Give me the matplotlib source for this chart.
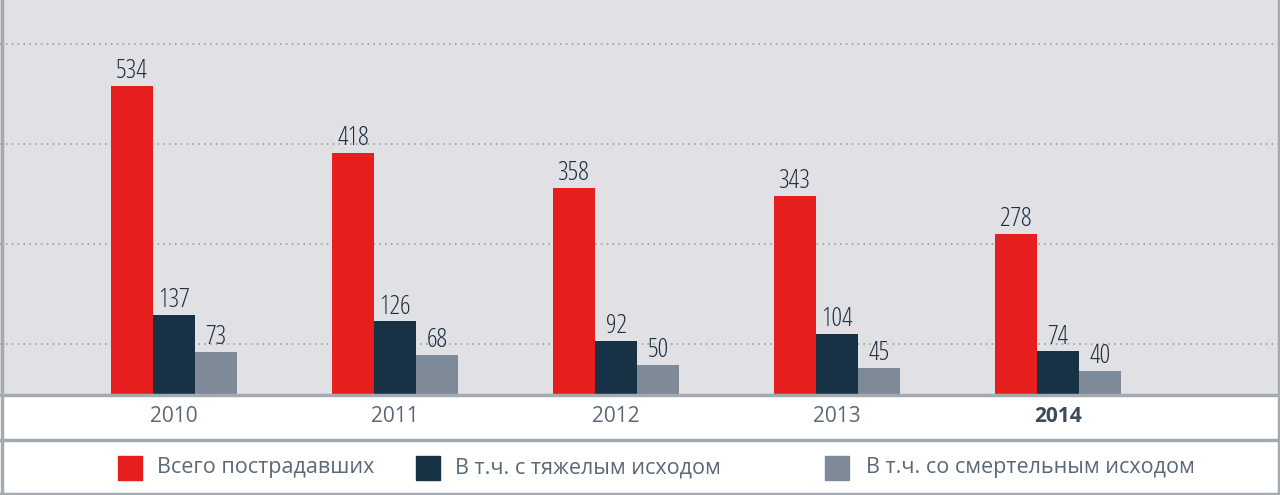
import matplotlib
matplotlib.use("Agg")
import matplotlib.pyplot as plt
from matplotlib.patches import Rectangle
import numpy as np

years = ["2010", "2011", "2012", "2013", "2014"]
total = [534, 418, 358, 343, 278]
severe = [137, 126, 92, 104, 74]
fatal = [73, 68, 50, 45, 40]
labels = ["Всего пострадавших", "В т.ч. с тяжелым исходом", "В т.ч. со смертельным исходом"]
colors = ["#e61e1e", "#173244", "#7f8a98"]

W, H = 1280, 495
fig = plt.figure(figsize=(12.8, 4.95), dpi=100)
fig.patch.set_facecolor("white")
plt.rcParams['font.family'] = ['Open Sans', 'DejaVu Sans']

top_px, base_px = 0, 394
ax = fig.add_axes([0, 1 - base_px / H, 1, (base_px - top_px) / H])
ax.set_facecolor("#e1e1e5")
scale = 308 / 534  # px per unit
ax.set_ylim(0, (base_px - top_px) / scale)
ax.set_xlim(-174 / 221, (W - 174) / 221)
for gp in [44, 144, 244, 344]:
    ax.axhline((base_px - gp) / scale, color="#9a9ea6", lw=1.2, ls=(0, (1, 2.5)), zorder=0)
bw = 42 / 221
x = np.arange(len(years))
for off, vals, c in [(-1, total, colors[0]), (0, severe, colors[1]), (1, fatal, colors[2])]:
    bars = ax.bar(x + off * bw, vals, bw, color=c, zorder=2)
    for b, v in zip(bars, vals):
        ax.text(b.get_x() + b.get_width() / 2, v + 3, str(v), ha="center", va="bottom",
                fontsize=19, color="#1e3040", zorder=3, fontstretch="condensed")
for s in ax.spines.values():
    s.set_visible(False)
ax.set_xticks([]); ax.set_yticks([])

border = "#a3aab2"
for i, y in enumerate(years):
    fig.text((174 + 221 * i) / W, 1 - 417 / H, y, ha="center", va="center", fontsize=15,
             color="#5a6878" if i < 4 else "#3c4a5a", fontweight="normal" if i < 4 else "bold")

fig.add_artist(plt.Line2D([0, 1], [1 - 395 / H] * 2, color=border, lw=2.5, transform=fig.transFigure))
fig.add_artist(plt.Line2D([0, 1], [1 - 440 / H] * 2, color=border, lw=2.5, transform=fig.transFigure))
fig.add_artist(plt.Line2D([0, 1], [1 / H] * 2, color=border, lw=2.5, transform=fig.transFigure))
fig.add_artist(plt.Line2D([1.5 / W] * 2, [0, 1], color=border, lw=2.5, transform=fig.transFigure))
fig.add_artist(plt.Line2D([1 - 1.5 / W] * 2, [0, 1], color=border, lw=2.5, transform=fig.transFigure))

leg = [(118, 157, labels[0]), (416, 455, labels[1]), (825, 866, labels[2])]
for (sx, tx, lab), c in zip(leg, colors):
    fig.add_artist(Rectangle((sx / W, 1 - 480 / H), 24 / W, 24 / H, color=c, transform=fig.transFigure))
    fig.text(tx / W, 1 - 468 / H, lab, ha="left", va="center", fontsize=15.5, color="#5a6878")

fig.savefig("out.png", dpi=100)
